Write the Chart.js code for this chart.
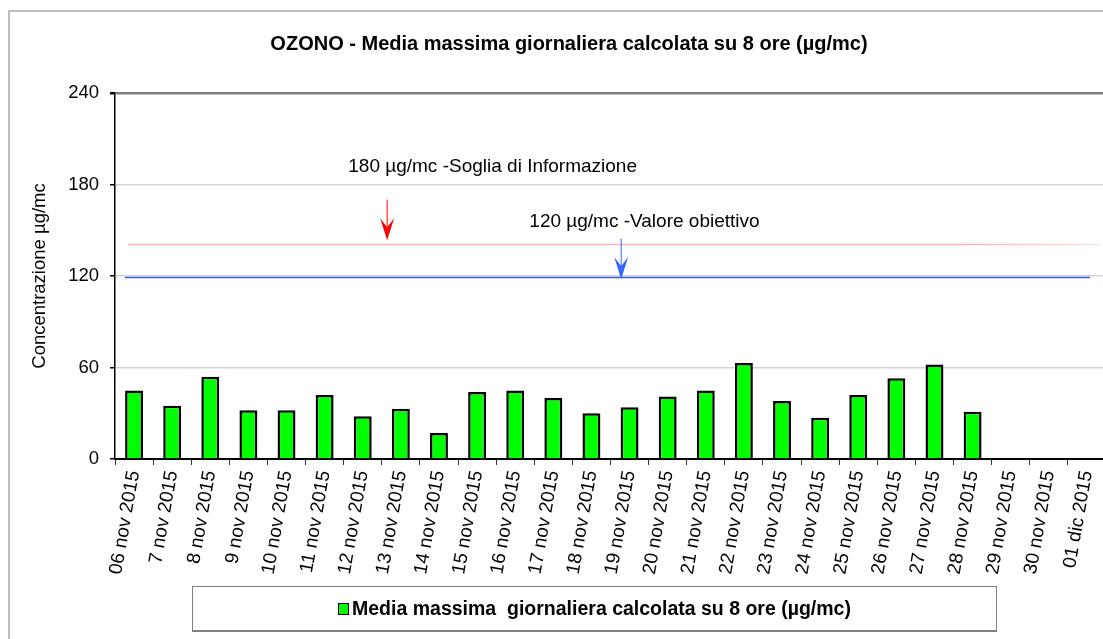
<!DOCTYPE html>
<html lang="it">
<head>
<meta charset="utf-8">
<title>Ozono - media massima giornaliera su 8 ore</title>
<script src="https://cdn.jsdelivr.net/npm/chart.js@4.4.1/dist/chart.umd.min.js"></script>
<style>
  html, body { margin: 0; padding: 0; background: #fff; overflow: hidden; }
  body { width: 1103px; height: 639px; position: relative; font-family: "Liberation Sans", Arial, sans-serif; }
  #wrap { position: absolute; left: 0; top: 0; width: 1138px; height: 639px; }
  .legend {
    position: absolute; left: 192px; top: 586px; width: 805px; height: 46px;
    border: 1px solid #808080; border-bottom: 2px solid #808080; box-sizing: border-box;
    display: flex; align-items: center; justify-content: center;
    font: bold 19.5px "Liberation Sans", Arial, sans-serif; color: #000;
  }
  .legend i {
    display: inline-block; width: 9px; height: 10px; margin-right: 3px;
    background: #00ff00; border: 1.5px solid #000;
  }
</style>
</head>
<body>
<div id="wrap"><canvas id="ozoneChart" width="1138" height="639"></canvas></div>
<div class="legend"><i></i>Media massima&nbsp; giornaliera calcolata su 8 ore (µg/mc)</div>

<script>
/* Ozono: media massima giornaliera calcolata su 8 ore, 6 nov - 1 dic 2015 */

const days = [
  '06 nov 2015', '7 nov 2015', '8 nov 2015', '9 nov 2015', '10 nov 2015',
  '11 nov 2015', '12 nov 2015', '13 nov 2015', '14 nov 2015', '15 nov 2015',
  '16 nov 2015', '17 nov 2015', '18 nov 2015', '19 nov 2015', '20 nov 2015',
  '21 nov 2015', '22 nov 2015', '23 nov 2015', '24 nov 2015', '25 nov 2015',
  '26 nov 2015', '27 nov 2015', '28 nov 2015', '29 nov 2015', '30 nov 2015',
  '01 dic 2015'
];

// µg/mc, no data after 28 nov
const maxMean8h = [
  45, 35, 54, 32, 32, 42, 28, 33, 17, 44,
  45, 40, 30, 34, 41, 45, 63, 38, 27, 42,
  53, 62, 31, null, null, null
];

const yTicks = [0, 60, 120, 180, 240];

const sogliaLine = 141;   // linea rossa "Soglia di Informazione"
const obiettivoLine = 120; // linea blu "Valore obiettivo"

const FONT = '"Liberation Sans", Arial, sans-serif';

function drawArrow(ctx, px, yFrom, yTo, color) {
  ctx.save();
  ctx.strokeStyle = color;
  ctx.fillStyle = color;
  ctx.lineWidth = 1;
  ctx.beginPath();
  ctx.moveTo(px, yFrom);
  ctx.lineTo(px, yTo - 8);
  ctx.stroke();
  ctx.beginPath();
  ctx.moveTo(px, yTo);
  ctx.lineTo(px - 7, yTo - 22);
  ctx.lineTo(px, yTo - 13);
  ctx.lineTo(px + 7, yTo - 22);
  ctx.closePath();
  ctx.fill();
  ctx.restore();
}

// cornice esterna grigia
const frame = {
  id: 'frame',
  beforeDraw(chart) {
    const ctx = chart.ctx;
    ctx.save();
    ctx.fillStyle = '#fff';
    ctx.fillRect(0, 0, chart.width, chart.height);
    ctx.strokeStyle = '#c0c0c0';
    ctx.lineWidth = 2;
    ctx.strokeRect(9, 11, chart.width + 20, chart.height + 20);
    ctx.restore();
  }
};

// linee di riferimento con frecce ed etichette
const refLines = {
  id: 'refLines',
  afterDatasetsDraw(chart) {
    const { ctx, chartArea: a, scales: { x, y } } = chart;
    ctx.save();

    const yr = Math.round(y.getPixelForValue(sogliaLine)) + 0.5;
    const grad = ctx.createLinearGradient(a.left, 0, a.left + 985, 0);
    grad.addColorStop(0, '#ffb0b0');
    grad.addColorStop(0.85, '#ffb0b0');
    grad.addColorStop(1, '#ffe0e0');
    ctx.strokeStyle = grad;
    ctx.lineWidth = 1.5;
    ctx.beginPath();
    ctx.moveTo(a.left + 13, yr);
    ctx.lineTo(a.left + 985, yr);
    ctx.stroke();

    const yb = Math.round(y.getPixelForValue(obiettivoLine)) + 1.5;
    ctx.strokeStyle = '#3060e0';
    ctx.lineWidth = 1.5;
    ctx.beginPath();
    ctx.moveTo(a.left + 10, yb);
    ctx.lineTo(a.left + 975, yb);
    ctx.stroke();

    drawArrow(ctx, x.getPixelForValue(6.64), y.getPixelForValue(170), y.getPixelForValue(143.5), '#ff0000');
    drawArrow(ctx, x.getPixelForValue(12.78), y.getPixelForValue(144.5), y.getPixelForValue(118), '#3366ff');

    ctx.fillStyle = '#000';
    ctx.font = '19px ' + FONT;
    ctx.textBaseline = 'middle';
    ctx.textAlign = 'left';
    ctx.fillText('180 µg/mc -Soglia di Informazione', x.getPixelForValue(5.62), y.getPixelForValue(191.5));
    ctx.fillText('120 µg/mc -Valore obiettivo', x.getPixelForValue(10.37), y.getPixelForValue(155.4));
    ctx.restore();
  }
};

const chart = new Chart(document.getElementById('ozoneChart'), {
  type: 'bar',
  data: {
    labels: days,
    datasets: [{
      label: 'Media massima  giornaliera calcolata su 8 ore (µg/mc)',
      data: maxMean8h,
      backgroundColor: '#00ff00',
      borderColor: '#000',
      borderWidth: 2.5,
      barPercentage: 0.47,
      categoryPercentage: 1
    }]
  },
  options: {
    responsive: false,
    animation: false,
    layout: { padding: { left: 32, right: 32, top: 0, bottom: 0 } },
    plugins: {
      legend: { display: false },
      tooltip: { enabled: false },
      title: {
        display: true,
        text: 'OZONO - Media massima giornaliera calcolata su 8 ore (µg/mc)',
        color: '#000',
        font: { family: FONT, size: 20, weight: 'bold' },
        padding: { top: 32, bottom: 37 }
      }
    },
    scales: {
      x: {
        grid: {
          drawOnChartArea: false,
          tickLength: 6,
          tickColor: '#333',
          offset: true
        },
        border: { color: '#000', width: 2 },
        ticks: {
          autoSkip: false,
          minRotation: 80,
          maxRotation: 80,
          padding: 4,
          color: '#000',
          font: { family: FONT, size: 19 }
        },
        afterFit(scale) { scale.height = 180; }
      },
      y: {
        min: 0,
        max: 240,
        afterBuildTicks(scale) { scale.ticks = yTicks.map(v => ({ value: v })); },
        grid: {
          color: ctx => ctx.tick && ctx.tick.value === 240 ? '#808080' : '#d4d4d4',
          lineWidth: ctx => ctx.tick && ctx.tick.value === 240 ? 2.5 : 1.5,
          tickLength: 5,
          tickColor: '#000'
        },
        border: { color: '#000', width: 1.5 },
        ticks: {
          padding: 11,
          color: '#000',
          font: { family: FONT, size: 18.5 }
        },
        title: {
          display: true,
          text: 'Concentrazione µg/mc',
          color: '#000',
          font: { family: FONT, size: 18.5 },
          padding: { top: -3, bottom: 0 }
        },
        afterFit(scale) { scale.width = 83; }
      }
    }
  },
  plugins: [frame, refLines]
});
</script>
</body>
</html>
